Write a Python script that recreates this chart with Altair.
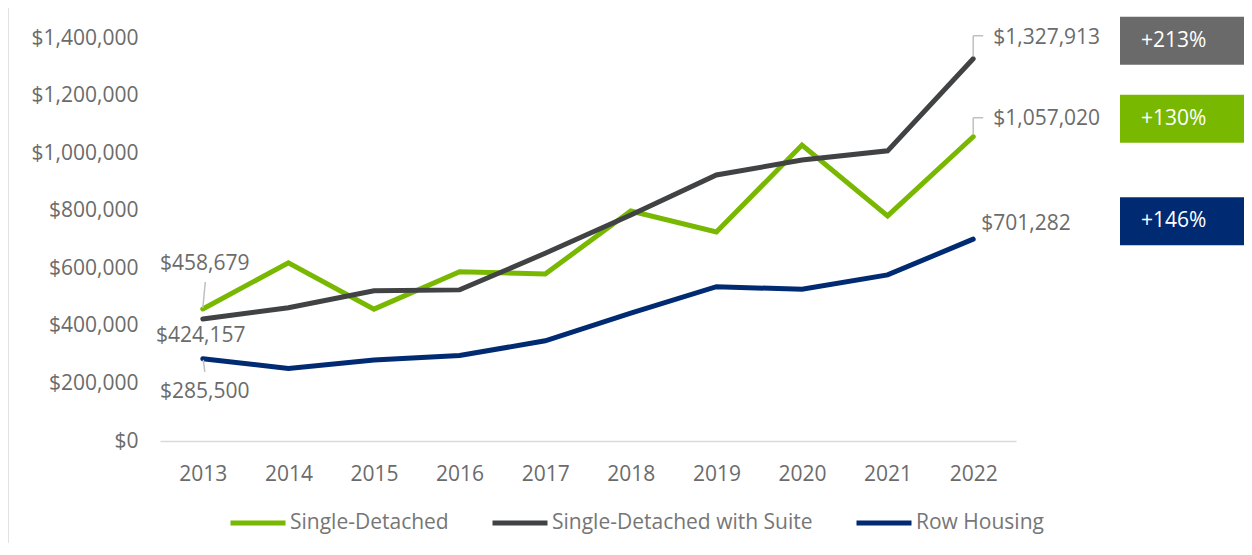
import altair as alt
import pandas as pd

# ---- data ----
years = [2013, 2014, 2015, 2016, 2017, 2018, 2019, 2020, 2021, 2022]
series_names = ["Single-Detached", "Single-Detached with Suite", "Row Housing"]
single_detached = [458679, 619000, 458000, 588000, 580000, 799000, 726000, 1028000, 782000, 1057020]
with_suite = [424157, 463000, 522000, 525000, 652000, 785000, 924000, 976000, 1008000, 1327913]
row_housing = [285500, 252000, 281000, 297000, 348000, 444000, 536000, 527000, 577000, 701282]
growth_labels = ["+130%", "+213%", "+146%"]
y_ticks = [0, 200000, 400000, 600000, 800000, 1000000, 1200000, 1400000]

colors = ["#78b800", "#404244", "#002b73"]
box_colors = ["#78b800", "#6a6a6a", "#002b73"]
TXT = "#6b6b6b"
FONT = "Open Sans"

values_by_series = [single_detached, with_suite, row_housing]
rows = []
for name, vals in zip(series_names, values_by_series):
    for yr, v in zip(years, vals):
        rows.append({"year": yr, "value": v, "series": name})
df = pd.DataFrame(rows)

xenc = alt.X("year:O", scale=alt.Scale(type="point", padding=0.5),
             axis=alt.Axis(title=None, labelAngle=0, ticks=False, domainColor="#d9d9d9",
                           domainWidth=1.5, labelPadding=22, labelFontSize=21,
                           labelColor=TXT, labelFont=FONT))
yscale = alt.Scale(domain=[0, 1400000], nice=False, zero=True)

lines = alt.Chart(df).mark_line(strokeWidth=5, strokeCap="round").encode(
    x=xenc,
    y=alt.Y("value:Q", scale=yscale,
            axis=alt.Axis(title=None, values=y_ticks, format="$,.0f", grid=False,
                          domain=False, ticks=False, labelPadding=22,
                          labelFontSize=21, labelColor=TXT, labelFont=FONT)),
    color=alt.Color("series:N",
                    scale=alt.Scale(domain=series_names, range=colors),
                    sort=series_names,
                    legend=alt.Legend(title=None, orient="none", direction="horizontal",
                                      legendX=68, legendY=455, symbolType="stroke",
                                      symbolSize=3025, symbolStrokeWidth=5,
                                      labelOffset=2, columnPadding=33, labelLimit=500,
                                      labelFontSize=21, labelColor="#767676", labelFont=FONT)),
)


def one(year, value):
    return pd.DataFrame({"year": [year], "value": [value]})


def label(year, value, text, dx, dy, align):
    d = one(year, value)
    d["text"] = text
    return alt.Chart(d).mark_text(dx=dx, dy=dy, align=align, baseline="middle",
                                  fontSize=21, color=TXT, font=FONT).encode(
        x="year:O", y=alt.Y("value:Q", scale=yscale), text="text:N")


def leader(year, value, xo1, yo1, xo2, yo2):
    return alt.Chart(one(year, value)).mark_rule(
        color="#bfbfbf", strokeWidth=1.5,
        xOffset=xo1, yOffset=yo1, x2Offset=xo2, y2Offset=yo2).encode(
        x="year:O", x2=alt.X2("year"),
        y=alt.Y("value:Q", scale=yscale), y2=alt.Y2("value"))


first, last = years[0], years[-1]
layers = [lines]
# value labels at first and last points
layers.append(label(first, single_detached[0], f"${single_detached[0]:,}", 2, -45, "center"))
layers.append(label(first, with_suite[0], f"${with_suite[0]:,}", -2, 17, "center"))
layers.append(label(first, row_housing[0], f"${row_housing[0]:,}", 2, 33, "center"))
layers.append(label(last, with_suite[-1], f"${with_suite[-1]:,}", 20, -21, "left"))
layers.append(label(last, single_detached[-1], f"${single_detached[-1]:,}", 20, -18, "left"))
layers.append(label(last, row_housing[-1], f"${row_housing[-1]:,}", 8, -15, "left"))
# leader lines
layers.append(leader(first, single_detached[0], 0, -1, 2.5, -27))
layers.append(leader(first, row_housing[0], 0.5, 1, 2, 13))
layers.append(leader(last, with_suite[-1], 0, -2, 0, -23))
layers.append(leader(last, with_suite[-1], 0, -23, 10, -23))
layers.append(leader(last, single_detached[-1], 0, -2, 0, -19))
layers.append(leader(last, single_detached[-1], 0, -19, 10, -19))

# growth boxes, placed at the height of each series' last value
for vals, txt, bc in zip(values_by_series, growth_labels, box_colors):
    d = one(last, vals[-1])
    d["text"] = txt
    layers.append(alt.Chart(d).mark_rect(color=bc, yOffset=-42, y2Offset=6).encode(
        x=alt.value(960), x2=alt.value(1084),
        y=alt.Y("value:Q", scale=yscale), y2=alt.Y2("value")))
    layers.append(alt.Chart(d).mark_text(align="left", baseline="middle", dy=-18,
                                         fontSize=21, color="white", font=FONT).encode(
        x=alt.value(981), y=alt.Y("value:Q", scale=yscale), text="text:N"))

# left frame edge
layers.append(alt.Chart(one(first, 0)).mark_rule(color="#d9d9d9", strokeWidth=1.5).encode(
    x=alt.value(-152), y=alt.value(-30), y2=alt.value(505)))

chart = alt.layer(*layers).properties(
    width=856, height=403,
    autosize=alt.AutoSizeParams(type="none"),
    padding={"left": 152, "top": 30, "right": 228, "bottom": 102},
).configure_view(stroke=None)

chart.save("out.html", embed_options={"renderer": "svg", "actions": False})
